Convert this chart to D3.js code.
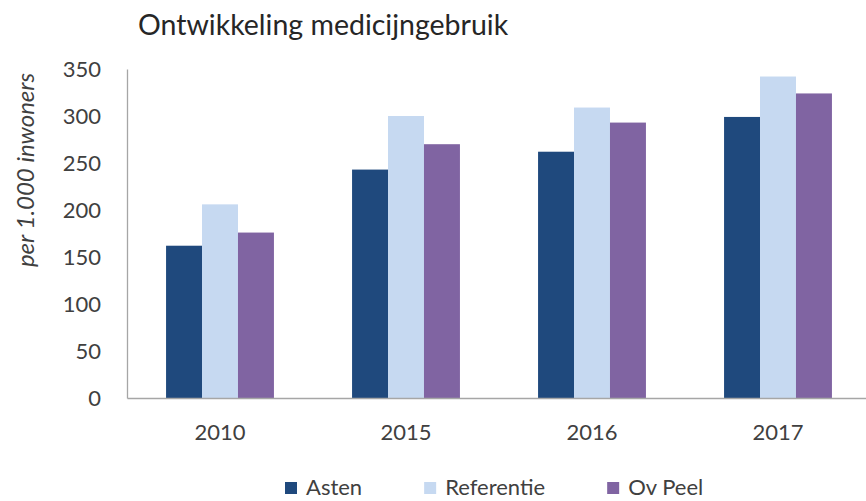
<!DOCTYPE html>
<html>
<head>
<meta charset="utf-8">
<script src="https://cdn.jsdelivr.net/npm/d3@7"></script>
<style>
  body { margin: 0; background: #fff; }
  svg { display: block; font-family: Lato, "Open Sans", sans-serif; }
</style>
</head>
<body>
<div id="chart"></div>
<script>
// chart data
const years = ['2010', '2015', '2016', '2017'];
const seriesNames = ['Asten', 'Referentie', 'Ov Peel'];
const asten = [162, 243, 262, 299];
const referentie = [206, 300, 309, 342];
const ovPeel = [176, 270, 293, 324];
const yTicks = [0, 50, 100, 150, 200, 250, 300, 350];

const colors = ['#1f497d', '#c6d9f1', '#8064a2'];
const textColor = '#404040';

function drawChart() {
    const width = 866;
    const height = 501;

    const svg = d3.select('#chart')
        .append('svg')
        .attr('width', width)
        .attr('height', height);

    const values = [asten, referentie, ovPeel];
    const rows = years.map((year, i) => ({
        year: year,
        vals: seriesNames.map((name, s) => ({ name: name, value: values[s][i], s: s }))
    }));

    // plot area (right side runs a little past the frame, as in the original)
    const left = 127, right = 871, top = 69, bottom = 398;

    const x = d3.scaleBand()
        .domain(years)
        .range([left, right])
        .paddingInner(0.42)
        .paddingOuter(0.21);

    const xSub = d3.scaleBand()
        .domain(seriesNames)
        .range([0, x.bandwidth()]);

    const y = d3.scaleLinear()
        .domain([0, 350])
        .range([bottom, top]);

    // bars
    const groups = svg.selectAll('.year')
        .data(rows)
        .enter().append('g')
        .attr('class', 'year')
        .attr('transform', d => `translate(${x(d.year)},0)`);

    groups.selectAll('rect')
        .data(d => d.vals)
        .enter().append('rect')
        .attr('x', d => xSub(d.name))
        .attr('width', xSub.bandwidth())
        .attr('y', d => y(d.value))
        .attr('height', d => y(0) - y(d.value))
        .attr('fill', d => colors[d.s]);

    // y axis
    const yAxis = svg.append('g')
        .attr('transform', `translate(${left},0)`)
        .call(d3.axisLeft(y).tickValues(yTicks).tickSize(0).tickPadding(26).tickSizeOuter(0));
    yAxis.select('.domain').attr('stroke', '#a6a6a6').attr('stroke-width', 1.3);
    yAxis.selectAll('text')
        .attr('font-size', '22px')
        .attr('font-family', 'Lato, sans-serif')
        .attr('fill', textColor);

    // x axis
    const xAxis = svg.append('g')
        .attr('transform', `translate(0,${bottom})`)
        .call(d3.axisBottom(x).tickSize(0).tickPadding(26).tickSizeOuter(0));
    xAxis.select('.domain').attr('stroke', '#a6a6a6').attr('stroke-width', 1.3);
    xAxis.selectAll('text')
        .attr('font-size', '22px')
        .attr('font-family', 'Lato, sans-serif')
        .attr('fill', textColor);

    // title
    svg.append('text')
        .attr('x', 138)
        .attr('y', 35)
        .attr('font-size', '28.5px')
        .attr('fill', '#262626')
        .text('Ontwikkeling medicijngebruik');

    // y axis label
    svg.append('text')
        .attr('transform', 'translate(34,170) rotate(-90)')
        .attr('text-anchor', 'middle')
        .attr('font-size', '24px')
        .attr('font-style', 'italic')
        .attr('fill', textColor)
        .text('per 1.000 inwoners');

    // legend
    const legend = svg.append('g').attr('transform', 'translate(285,0)');
    let lx = 0;
    seriesNames.forEach((name, s) => {
        const item = legend.append('g').attr('transform', `translate(${lx},0)`);
        item.append('rect')
            .attr('x', 0)
            .attr('y', 482)
            .attr('width', 12)
            .attr('height', 12)
            .attr('fill', colors[s]);
        const t = item.append('text')
            .attr('x', 21)
            .attr('y', 495)
            .attr('font-size', '22px')
            .attr('fill', textColor)
            .text(name);
        lx += 21 + t.node().getComputedTextLength() + 62;
    });
}

drawChart();
</script>
</body>
</html>
